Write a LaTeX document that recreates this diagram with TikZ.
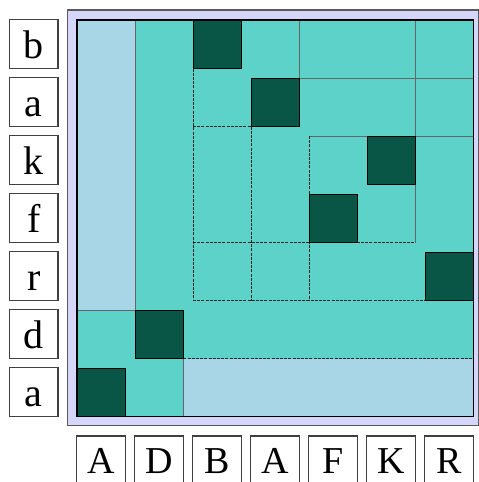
\documentclass[tikz,border=0pt]{standalone}
\usepackage{fontspec}
\setmainfont{Liberation Serif}
\definecolor{panel}{HTML}{D6D6FA}
\definecolor{lightfill}{HTML}{A8D6E6}
\definecolor{medfill}{HTML}{5CD2C8}
\definecolor{darkfill}{HTML}{0A5646}
\begin{document}
\begin{tikzpicture}[x=1pt,y=-1pt,
  lab/.style={draw=black!75, line width=1.1pt, fill=white, inner sep=0pt,
    minimum width=48.5pt, minimum height=49pt,
    font=\fontsize{40}{40}\selectfont, text height=29pt, text depth=0pt},
  blab/.style={lab, font=\fontsize{38}{38}\selectfont, text height=25pt},
  blk/.style={fill=darkfill, draw=black, line width=0.8pt},
  sep/.style={draw=black!60, line width=0.9pt},
  dsep/.style={draw=black!85, line width=0.8pt, dash pattern=on 3pt off 1.2pt}]
\useasboundingbox (0,0) rectangle (479,482);
% panel
\draw[fill=panel, draw=black!65, line width=1.2pt] (67.5,10) rectangle (478.5,425.7);
% matrix fills
\fill[lightfill] (77,20) rectangle (473.3,416.5);
\fill[medfill] (135,20) rectangle (473.3,358.5);
\fill[medfill] (77,310) rectangle (135,368);
\fill[medfill] (125.3,358.5) rectangle (183.3,416.5);
% separators
\draw[sep] (135,20) -- (135,310);
\draw[sep] (77,310) -- (135,310);
\draw[sep] (183.3,358.5) -- (183.3,416.5);
\draw[dsep] (183.3,358.5) -- (473.3,358.5);
\draw[dsep] (193,68.5) -- (193,300.5);
\draw[dsep] (193,300.5) -- (425,300.5);
\draw[sep] (299.3,20) -- (299.3,78);
\draw[sep] (299.3,78) -- (473.3,78);
\draw[dsep] (193,126.5) -- (251,126.5);
\draw[dsep] (251,126.5) -- (251,300.5);
\draw[sep] (415.3,20) -- (415.3,242.5);
\draw[sep] (309,136) -- (473.3,136);
\draw[dsep] (309,136) -- (309,300.5);
\draw[dsep] (193,242.5) -- (415.3,242.5);
% dark diagonal blocks
\draw[blk] (193,20) rectangle (241.3,68.5);
\draw[blk] (251,78) rectangle (299.3,126.5);
\draw[blk] (367,136) rectangle (415.3,184.5);
\draw[blk] (309,194) rectangle (357.3,242.5);
\draw[blk] (425,252) rectangle (473.3,300.5);
\draw[blk] (135,310) rectangle (183.3,358.5);
\draw[blk] (77,368) rectangle (125.3,416.5);
% matrix border
\draw[black, line width=1.5pt] (77,20) rectangle (473.3,416.5);
% row labels
\node[lab] (lb)  at (33.75,44.25)  {b};
\node[lab] (la1) at (33.75,102.25) {a};
\node[lab] (lk)  at (33.75,160.25) {k};
\node[lab] (lf)  at (33.75,218.25) {f};
\node[lab] (lr)  at (33.75,276.25) {r};
\node[lab] (ld)  at (33.75,334.25) {d};
\node[lab] (la2) at (33.75,392.25) {a};
% column labels
\node[blab] (cA1) at (101.15,460.5) {A};
\node[blab] (cD)  at (159.15,460.5) {D};
\node[blab] (cB)  at (217.15,460.5) {B};
\node[blab] (cA2) at (275.15,460.5) {A};
\node[blab] (cF)  at (333.15,460.5) {F};
\node[blab] (cK)  at (391.15,460.5) {K};
\node[blab] (cR)  at (449.15,460.5) {R};
\end{tikzpicture}
\end{document}
